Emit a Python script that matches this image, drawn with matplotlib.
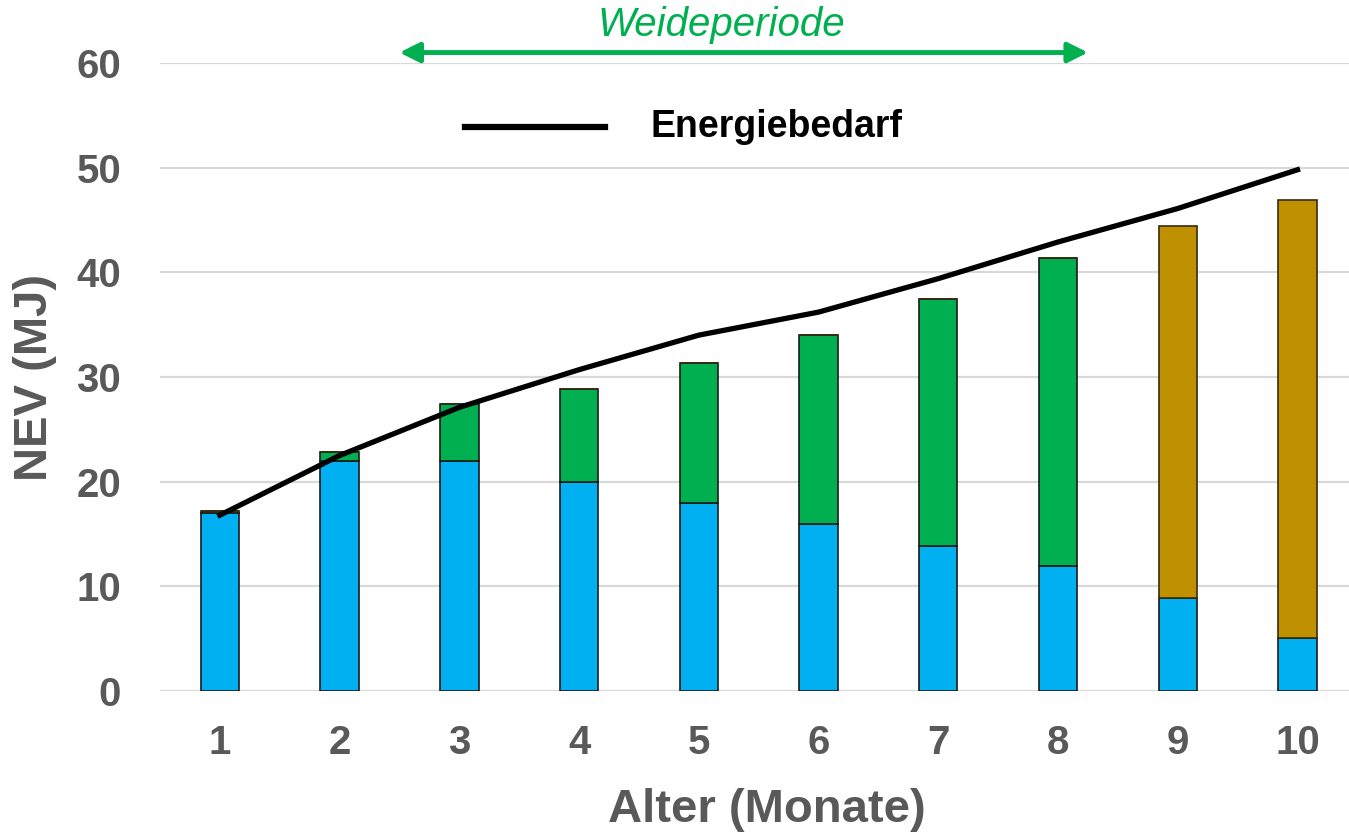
import numpy as np
from matplotlib import pyplot as plt

plt.rcParams['font.family'] = ['Liberation Sans', 'DejaVu Sans']

# daten
monate = np.arange(1, 11)
milch = [17.0, 22.0, 22.0, 20.0, 18.0, 16.0, 13.9, 11.9, 8.9, 5.1]
weide = [0.2, 0.8, 5.4, 8.9, 13.3, 18.0, 23.6, 29.5, 0, 0]
futter = [0, 0, 0, 0, 0, 0, 0, 0, 35.5, 41.8]
bedarf = [16.8, 22.5, 27.1, 30.7, 34.0, 36.2, 39.4, 42.9, 46.1, 49.8]

grau = '#595959'
fig = plt.figure(figsize=(13.49, 8.35), dpi=100)
ax = fig.add_axes([160 / 1349, 144 / 835, 1189 / 1349, 628 / 835])

bw = 0.32
ax.bar(monate, milch, bw, color='#00B0F0', edgecolor='#1a1a1a', linewidth=1.2, zorder=2)
ax.bar(monate, weide, bw, bottom=milch, color='#00B050', edgecolor='#1a1a1a', linewidth=1.2, zorder=2)
unten = np.array(milch) + np.array(weide)
ax.bar(monate, futter, bw, bottom=unten, color='#BF9000', edgecolor='#3a2a10', linewidth=1.2, zorder=2)
ax.plot(monate, bedarf, color='black', linewidth=3.8, zorder=3)

# achsen
ax.set_xlim(0.5, 10.43)
ax.set_ylim(0, 60)
ax.set_yticks(range(0, 61, 10))
ax.set_xticks(monate)
ax.tick_params(length=0, labelsize=29, labelcolor=grau)
ax.tick_params(axis='y', pad=28)
ax.tick_params(axis='x', pad=24)
for lbl in ax.get_xticklabels() + ax.get_yticklabels():
    lbl.set_fontweight('bold')
for s in ax.spines.values():
    s.set_visible(False)
ax.grid(axis='y', color='#D9D9D9', linewidth=1.6, zorder=0)
ax.set_axisbelow(True)

ax.set_xlabel('Alter (Monate)', fontsize=34, fontweight='bold', color=grau, va='center')
ax.set_ylabel('NEV (MJ)', fontsize=34, fontweight='bold', color=grau, va='center')
ax.xaxis.set_label_coords(0.51, -0.19)
ax.yaxis.set_label_coords(-0.105, 0.50)

# weideperiode pfeil
ax.annotate('', xy=(2.5, 61.0), xytext=(8.25, 61.0),
            arrowprops=dict(arrowstyle='<|-|>', color='#00B050', lw=3.5,
                            mutation_scale=30, shrinkA=0, shrinkB=0),
            annotation_clip=False)
ax.text(5.19, 63.6, 'Weideperiode', color='#00B050', fontsize=29, style='italic',
        ha='center', va='center', clip_on=False)

# legende
ax.plot([3.05, 4.22], [53.9, 53.9], color='black', linewidth=4.5, clip_on=False)
ax.text(4.6, 53.9, 'Energiebedarf', fontsize=27, fontweight='bold', va='center')

plt.savefig('out.png', dpi=100)
